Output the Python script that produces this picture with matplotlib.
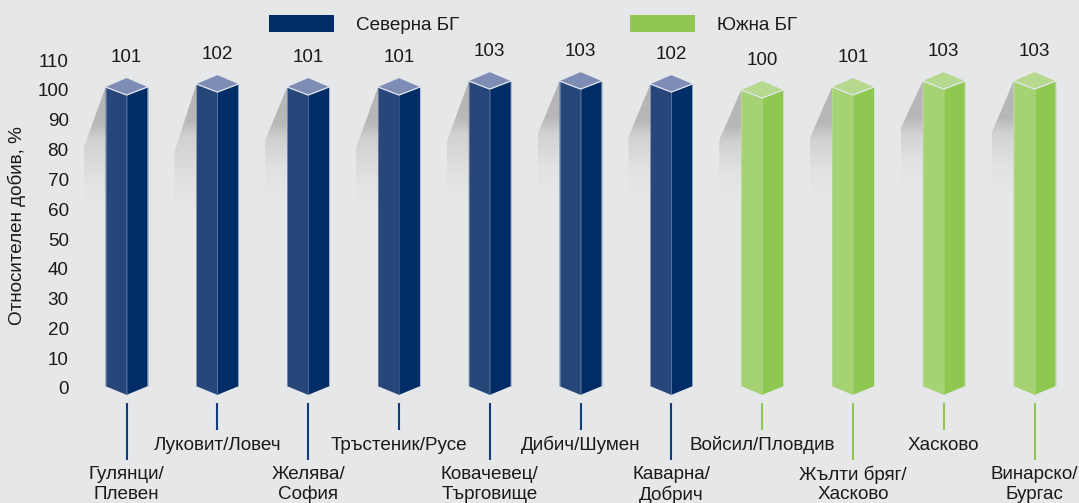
import numpy as np
import matplotlib
matplotlib.use("Agg")
import matplotlib.pyplot as plt
from matplotlib.patches import Patch, Polygon

plt.rcParams['font.family'] = ['Liberation Sans', 'DejaVu Sans']

# Chart data
stations = ["Гулянци/\nПлевен", "Луковит/Ловеч", "Желява/\nСофия", "Тръстеник/Русе",
            "Ковачевец/\nТърговище", "Дибич/Шумен", "Каварна/\nДобрич",
            "Войсил/Пловдив", "Жълти бряг/\nХасково", "Хасково", "Винарско/\nБургас"]
yields = [101, 102, 101, 101, 103, 103, 102, 100, 101, 103, 103]
regions = ["north"] * 7 + ["south"] * 4
region_names = {"north": "Северна БГ", "south": "Южна БГ"}
y_ticks = list(range(0, 111, 10))
y_label = "Относителен добив, %"

# Lower end of each bar's shadow, in pixels from the top
shadow_knees = [148, 152, 140, 148, 142, 134, 137, 140, 138, 128, 133]

BG = "#e6e7e9"
TEXT = "#1a1a1a"
FONT = 13.6
COLORS = {
    "north": dict(left="#27477b", right="#002d67", top="#7d8db5", edge="#8c9cc0", line="#0f3e7a"),
    "south": dict(left="#a5d273", right="#8fc850", top="#b7d98f", edge="#bfdf9c", line="#8fc850"),
}

W, H = 1079, 503
X0, X_STEP = 126.6, 90.8  # pixel centre of the first bar, pixels between bars
Y0, Y_SCALE = 388, 2.98   # pixel row of value 0, pixels per unit


def py(row):
    """Pixel row to y value."""
    return (Y0 - row) / Y_SCALE


def draw_shadow(ax, x, top, knee_row, half):
    left = x - half
    far = left - 22 / X_STEP
    end_row = knee_row + 60
    top_row = Y0 - top * Y_SCALE

    rows = np.linspace(top_row, end_row, 200)
    dark_end = top_row + 36
    alpha = np.interp(rows, [top_row, dark_end, dark_end + 16, end_row - 28, end_row],
                      [0.95, 0.9, 0.42, 0.1, 0.0])
    img = np.zeros((200, 1, 4))
    img[..., :3] = 0.70
    img[:, 0, 3] = alpha
    im = ax.imshow(img, extent=(far, left, py(end_row), top), aspect="auto",
                   interpolation="bilinear", zorder=1)
    clip = Polygon([(left, top), (far, py(knee_row)), (far, py(end_row)), (left, py(end_row))],
                   transform=ax.transData, fill=False, edgecolor="none")
    ax.add_patch(clip)
    im.set_clip_path(clip)


def draw_bar(ax, x, value, region, half=0.231):
    c = COLORS[region]
    drop, rise = 2.7, 3.0
    low_side, low_mid = 0.6, -2.3
    ax.add_patch(Polygon([(x - half, value), (x, value - drop), (x, low_mid), (x - half, low_side)],
                         facecolor=c["left"], edgecolor="none", zorder=3))
    ax.add_patch(Polygon([(x + half, value), (x, value - drop), (x, low_mid), (x + half, low_side)],
                         facecolor=c["right"], edgecolor="none", zorder=3))
    ax.add_patch(Polygon([(x - half, value), (x, value + rise), (x + half, value), (x, value - drop)],
                         facecolor=c["top"], edgecolor="none", zorder=4))
    # thin light edges
    ax.plot([x - half, x - half], [value, low_side], color=c["edge"], lw=0.4, zorder=5)
    ax.plot([x + half, x + half], [value, low_side], color=c["edge"], lw=0.4, zorder=5)
    ax.plot([x, x], [value - drop, low_mid], color=c["edge"], lw=0.4, alpha=0.6, zorder=5)
    ax.plot([x - half, x, x + half], [value, value - drop, value], color="#e4e7ee", lw=0.9, zorder=6)


def plot_chart(output="out.png"):
    fig = plt.figure(figsize=(W / 100, H / 100), dpi=100, facecolor=BG)
    ax = fig.add_axes([0, 0, 1, 1], facecolor=BG)

    positions = np.arange(len(yields))
    for x, value, region, knee, name in zip(positions, yields, regions, shadow_knees, stations):
        draw_shadow(ax, x, value, knee, 0.231)
        draw_bar(ax, x, value, region)
        ax.text(x, value + 10.0, str(value), ha="center", va="center", fontsize=FONT, color=TEXT)

        # Leader line and station name, long leaders for the two-line names
        two_line = "\n" in name
        ax.plot([x, x], [py(403), py(460 if two_line else 430)],
                color=COLORS[region]["line"], lw=1.5, solid_capstyle="butt", zorder=2)
        if two_line:
            first, second = name.split("\n")
            ax.text(x, py(474.5), first, ha="center", va="center", fontsize=FONT, color=TEXT)
            ax.text(x, py(494.5), second, ha="center", va="center", fontsize=FONT, color=TEXT)
        else:
            ax.text(x, py(445), name, ha="center", va="center", fontsize=FONT, color=TEXT)

    ax.set_xlim(-X0 / X_STEP, (W - X0) / X_STEP)
    ax.set_ylim(py(H), py(0))
    ax.set_xticks([])
    ax.set_yticks(y_ticks)
    ax.tick_params(axis="y", length=0, pad=-49.5, labelsize=FONT, labelcolor=TEXT)
    for spine in ax.spines.values():
        spine.set_visible(False)
    ax.text(17 / W, 1 - 226 / H, y_label, transform=ax.transAxes, rotation=90,
            ha="center", va="center", fontsize=FONT, color=TEXT)

    handles = [Patch(facecolor=COLORS[r]["right"], edgecolor="none", label=region_names[r])
               for r in ("north", "south")]
    ax.legend(handles=handles, ncols=2, frameon=False, loc="upper left",
              bbox_to_anchor=(269 / W, 1 - 15 / H), borderpad=0, borderaxespad=0,
              fontsize=FONT, handlelength=3.44, handleheight=1.0,
              handletextpad=1.16, columnspacing=9.06, labelcolor=TEXT)

    fig.savefig(output, dpi=100, facecolor=BG)
    plt.close(fig)


if __name__ == "__main__":
    plot_chart()
